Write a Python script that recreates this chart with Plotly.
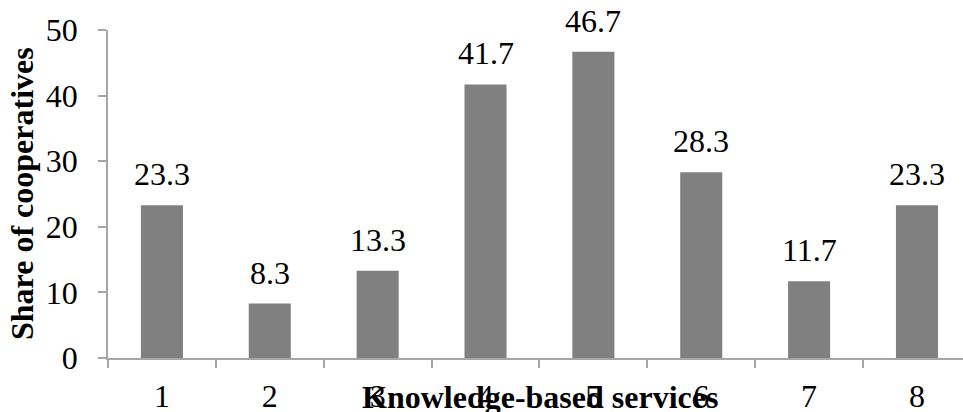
import plotly.graph_objects as go

categories = [1, 2, 3, 4, 5, 6, 7, 8]
values = [23.3, 8.3, 13.3, 41.7, 46.7, 28.3, 11.7, 23.3]
value_labels = ["23.3", "8.3", "13.3", "41.7", "46.7", "28.3", "11.7", "23.3"]
y_ticks = [0, 10, 20, 30, 40, 50]
x_title = "Knowledge-based services"
y_title = "Share of cooperatives"

FONT = "Liberation Serif"
AXIS_COLOR = "#a6a6a6"
BAR_COLOR = "#808080"

fig = go.Figure()
fig.add_trace(go.Bar(
    x=categories, y=values, width=0.39,
    marker=dict(color=BAR_COLOR, line=dict(width=0)),
    hoverinfo="skip",
))

annotations = []
for c, v, t in zip(categories, values, value_labels):
    annotations.append(dict(
        x=c, y=v, xref="x", yref="y", text=t, showarrow=False,
        yanchor="bottom", xanchor="center", yshift=11,
        font=dict(family=FONT, size=32, color="#000000"),
    ))
annotations.append(dict(
    x=(540 - 108) / 855, y=-0.12, xref="paper", yref="paper",
    text="<b>" + x_title + "</b>", showarrow=False,
    xanchor="center", yanchor="middle",
    font=dict(family=FONT, size=32, color="#000000"),
))
annotations.append(dict(
    x=(22 - 108) / 855, y=0.5, xref="paper", yref="paper",
    text="<b>" + y_title + "</b>", showarrow=False, textangle=-90,
    xanchor="center", yanchor="middle",
    font=dict(family=FONT, size=32, color="#000000"),
))

fig.update_layout(
    width=963, height=412,
    margin=dict(l=108, r=0, t=30, b=54, autoexpand=False),
    paper_bgcolor="white", plot_bgcolor="white",
    showlegend=False,
    annotations=annotations,
    font=dict(family=FONT, size=32, color="#000000"),
)
fig.update_xaxes(
    type="linear", range=[0.5, 0.5 + 855 / 107.86], automargin=False,
    tickmode="array", tickvals=categories, ticktext=[str(c) for c in categories],
    showgrid=False, zeroline=False,
    showline=True, linecolor=AXIS_COLOR, linewidth=1.5,
    ticks="", ticklabelstandoff=9,
    tickfont=dict(family=FONT, size=32, color="#000000"),
)
# boundary ticks via minor ticks
fig.update_xaxes(
    minor=dict(tickmode="array", tickvals=[c - 0.5 for c in categories],
               ticks="outside", ticklen=8, tickcolor=AXIS_COLOR, tickwidth=1.5, showgrid=False),
)
fig.update_yaxes(
    range=[0, 50], tickmode="array", tickvals=y_ticks, automargin=False,
    showgrid=False, zeroline=False,
    showline=True, linecolor=AXIS_COLOR, linewidth=1.5,
    ticks="outside", ticklen=8, tickcolor=AXIS_COLOR, tickwidth=1.5,
    ticklabelstandoff=14,
    tickfont=dict(family=FONT, size=32, color="#000000"),
)

fig.write_html("out.html")
